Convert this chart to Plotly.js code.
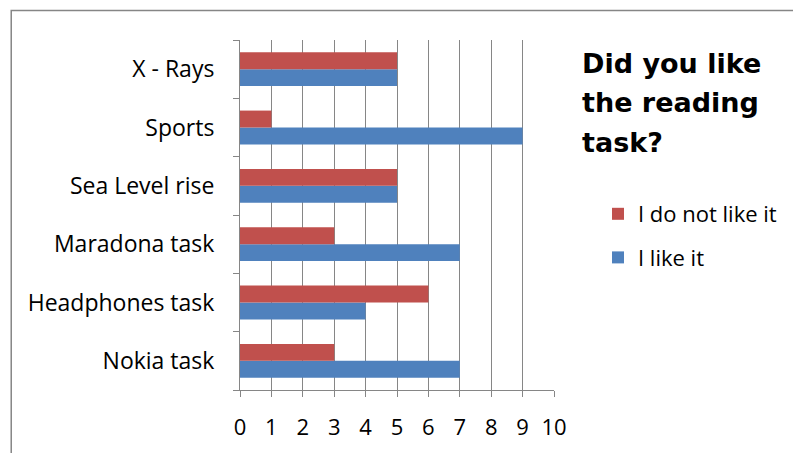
<!DOCTYPE html>
<html>
<head>
<meta charset="utf-8">
<script src="https://cdn.plot.ly/plotly-3.0.1.min.js"></script>
<style>html,body{margin:0;padding:0;background:#fff;}#chart{width:793px;height:453px;}</style>
</head>
<body>
<div id="chart"></div>
<script>
const categories = ["Nokia task", "Headphones task", "Maradona task", "Sea Level rise", "Sports", "X - Rays"];
const likeIt = [7, 4, 7, 5, 9, 5];
const dontLikeIt = [3, 6, 3, 5, 1, 5];
const xTicks = [0, 1, 2, 3, 4, 5, 6, 7, 8, 9, 10];
const seriesNames = ["I like it", "I do not like it"];
const titleLines = ["Did you like", "the reading", "task?"];

const L = 240, R = 238, T = 40, B = 63, W = 793, H = 453;
const pw = W - L - R, ph = H - T - B;
const px2x = p => (p - L) / pw;
const py2y = p => (H - B - p) / ph;

const traces = [
  {type: 'bar', orientation: 'h', y: categories, x: likeIt, name: seriesNames[0],
   marker: {color: '#4F81BD'}, legendgroup: 'a', legendrank: 2, hoverinfo: 'x+y'},
  {type: 'bar', orientation: 'h', y: categories, x: dontLikeIt, name: seriesNames[1],
   marker: {color: '#C0504D'}, legendgroup: 'b', legendrank: 1, hoverinfo: 'x+y'}
];

const font = '"Open Sans", Lato, sans-serif';
const annotations = titleLines.map((t, i) => ({
  text: t, xref: 'paper', yref: 'paper', x: px2x(581), y: py2y([63, 102, 142][i]),
  xanchor: 'left', yanchor: 'middle', showarrow: false,
  font: {family: '"DejaVu Sans", sans-serif', size: 27, color: '#000', weight: 'bold'}
}));

const layout = {
  width: W, height: H,
  margin: {l: L, r: R, t: T, b: B, pad: 0},
  paper_bgcolor: '#fff', plot_bgcolor: '#fff',
  barmode: 'group', bargap: 0.42, bargroupgap: 0,
  showlegend: true,
  legend: {x: px2x(598), y: py2y(193), xanchor: 'left', yanchor: 'top',
           traceorder: 'grouped', tracegroupgap: 12,
           font: {family: font, size: 22, color: '#000'}, bgcolor: 'rgba(0,0,0,0)'},
  xaxis: {range: [0, 10], tickvals: xTicks, ticktext: xTicks.map(String),
          showgrid: true, gridcolor: '#868686', gridwidth: 1,
          showline: true, linecolor: '#868686', linewidth: 1,
          ticks: 'outside', ticklen: 6, tickcolor: '#868686',
          ticklabelstandoff: 12, zeroline: false,
          tickfont: {family: font, size: 22, color: '#000'}, fixedrange: true},
  yaxis: {type: 'category', categoryorder: 'array', categoryarray: categories,
          showgrid: false, showline: true, linecolor: '#868686', linewidth: 1,
          ticks: 'outside', ticklen: 6, tickcolor: '#868686', tickson: 'boundaries',
          ticklabelstandoff: 20,
          tickfont: {family: font, size: 23, color: '#000'}, fixedrange: true},
  annotations: annotations,
  shapes: [{type: 'rect', xref: 'paper', yref: 'paper',
            x0: px2x(10.5), x1: px2x(820), y0: py2y(480), y1: py2y(10.5),
            line: {color: '#868686', width: 1.5}, fillcolor: 'rgba(0,0,0,0)', layer: 'below'}]
};

Plotly.newPlot('chart', traces, layout, {displayModeBar: false, staticPlot: true});
</script>
</body>
</html>
